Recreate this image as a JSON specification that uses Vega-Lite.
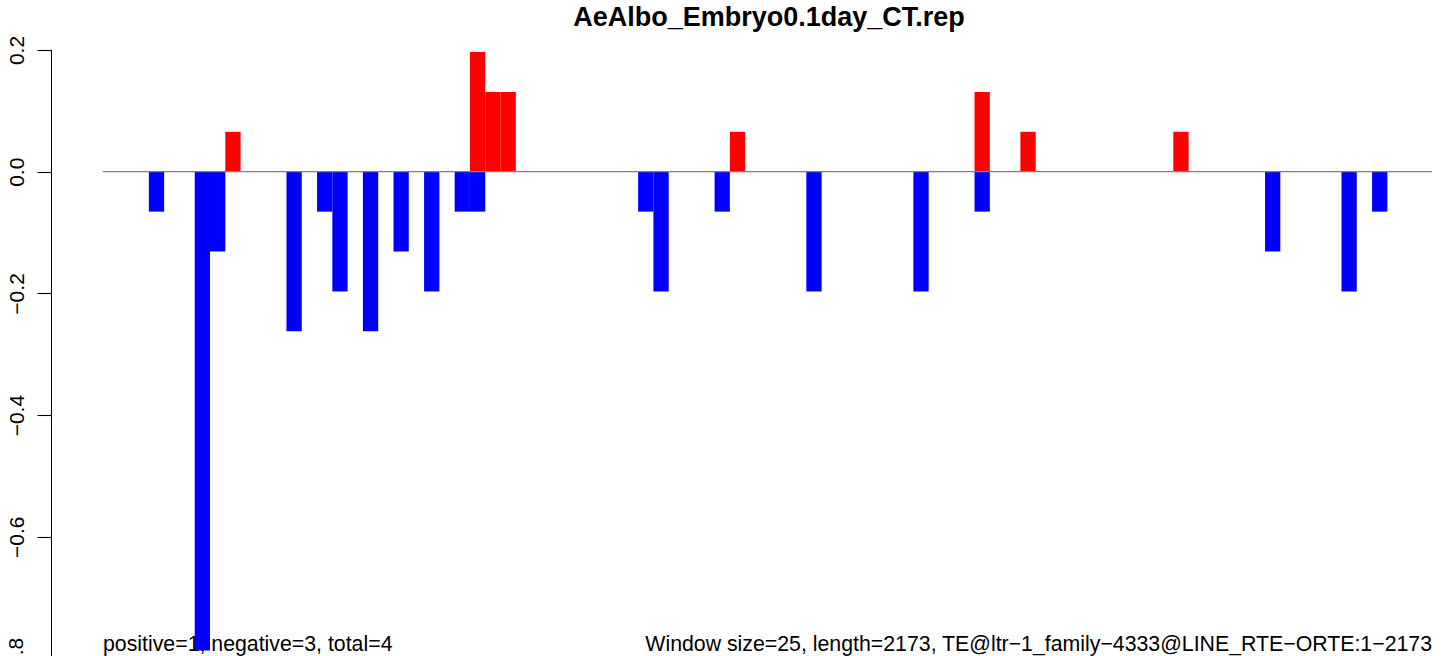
{
  "$schema": "https://vega.github.io/schema/vega-lite/v6.json",
  "autosize": {"type": "none"},
  "padding": {"left": 51, "top": 0, "right": 0, "bottom": 0},
  "width": 1393,
  "height": 656,
  "background": "white",
  "config": {"view": {"stroke": null}},
  "layer": [
    {
      "data": {"values": [{"label": "positive=1, negative=3, total=4"}]},
      "mark": {"type": "text", "align": "left", "baseline": "alphabetic", "font": "Liberation Sans", "fontSize": 21.3, "color": "black"},
      "encoding": {
        "x": {"datum": 0, "type": "quantitative", "axis": null},
        "y": {"datum": -0.7877, "type": "quantitative"},
        "text": {"field": "label"}
      }
    },
    {
      "data": {"values": [{"label": "Window size=25, length=2173, TE@ltr\u22121_family\u22124333@LINE_RTE\u2212ORTE:1\u22122173"}]},
      "mark": {"type": "text", "align": "right", "baseline": "alphabetic", "font": "Liberation Sans", "fontSize": 21.3, "color": "black"},
      "encoding": {
        "x": {"datum": 2173, "type": "quantitative", "axis": null},
        "y": {"datum": -0.7877, "type": "quantitative"},
        "text": {"field": "label"}
      }
    },
    {
      "data": {"values": [
        {"window": 3, "start": 75, "end": 100, "value": -0.0656, "sign": "negative"},
        {"window": 6, "start": 150, "end": 175, "value": -0.7869, "sign": "negative"},
        {"window": 7, "start": 175, "end": 200, "value": -0.1311, "sign": "negative"},
        {"window": 12, "start": 300, "end": 325, "value": -0.2623, "sign": "negative"},
        {"window": 14, "start": 350, "end": 375, "value": -0.0656, "sign": "negative"},
        {"window": 15, "start": 375, "end": 400, "value": -0.1967, "sign": "negative"},
        {"window": 17, "start": 425, "end": 450, "value": -0.2623, "sign": "negative"},
        {"window": 19, "start": 475, "end": 500, "value": -0.1311, "sign": "negative"},
        {"window": 21, "start": 525, "end": 550, "value": -0.1967, "sign": "negative"},
        {"window": 23, "start": 575, "end": 600, "value": -0.0656, "sign": "negative"},
        {"window": 24, "start": 600, "end": 625, "value": -0.0656, "sign": "negative"},
        {"window": 35, "start": 875, "end": 900, "value": -0.0656, "sign": "negative"},
        {"window": 36, "start": 900, "end": 925, "value": -0.1967, "sign": "negative"},
        {"window": 40, "start": 1000, "end": 1025, "value": -0.0656, "sign": "negative"},
        {"window": 46, "start": 1150, "end": 1175, "value": -0.1967, "sign": "negative"},
        {"window": 53, "start": 1325, "end": 1350, "value": -0.1967, "sign": "negative"},
        {"window": 57, "start": 1425, "end": 1450, "value": -0.0656, "sign": "negative"},
        {"window": 76, "start": 1900, "end": 1925, "value": -0.1311, "sign": "negative"},
        {"window": 81, "start": 2025, "end": 2050, "value": -0.1967, "sign": "negative"},
        {"window": 83, "start": 2075, "end": 2100, "value": -0.0656, "sign": "negative"},
        {"window": 8, "start": 200, "end": 225, "value": 0.0656, "sign": "positive"},
        {"window": 24, "start": 600, "end": 625, "value": 0.1967, "sign": "positive"},
        {"window": 25, "start": 625, "end": 650, "value": 0.1311, "sign": "positive"},
        {"window": 26, "start": 650, "end": 675, "value": 0.1311, "sign": "positive"},
        {"window": 41, "start": 1025, "end": 1050, "value": 0.0656, "sign": "positive"},
        {"window": 57, "start": 1425, "end": 1450, "value": 0.1311, "sign": "positive"},
        {"window": 60, "start": 1500, "end": 1525, "value": 0.0656, "sign": "positive"},
        {"window": 70, "start": 1750, "end": 1775, "value": 0.0656, "sign": "positive"}
      ]},
      "mark": {"type": "rect"},
      "encoding": {
        "x": {"field": "start", "type": "quantitative", "scale": {"domain": [-85, 2192.6], "nice": false, "zero": false}, "axis": null},
        "x2": {"field": "end"},
        "y": {"field": "value", "type": "quantitative", "scale": {"domain": [-0.7959, 0.2822], "nice": false, "zero": false},
          "axis": {"values": [-0.6, -0.4, -0.2, 0, 0.2], "format": ".1f", "title": null, "grid": false, "domain": false, "ticks": true,
            "labelAngle": 270, "labelAlign": "center", "labelBaseline": "alphabetic", "labelFont": "Liberation Sans",
            "labelFontSize": 21, "labelColor": "black", "labelPadding": 14, "tickColor": "black", "tickSize": 14, "tickWidth": 1.1, "tickOpacity": 1}},
        "y2": {"datum": 0},
        "color": {"field": "sign", "type": "nominal", "scale": {"domain": ["positive", "negative"], "range": ["#ff0000", "#0000ff"]}, "legend": null}
      }
    },
    {
      "data": {"values": [{"a": 1}]},
      "mark": {"type": "rule", "color": "#7f7f7f", "strokeWidth": 1.3},
      "encoding": {
        "x": {"datum": 0, "type": "quantitative", "axis": null},
        "x2": {"datum": 2173},
        "y": {"datum": 0, "type": "quantitative"}
      }
    },
    {
      "data": {"values": [{"a": 1}]},
      "mark": {"type": "rule", "color": "black", "strokeWidth": 1},
      "encoding": {
        "x": {"datum": -84.2, "type": "quantitative", "axis": null},
        "y": {"datum": 0.2, "type": "quantitative"},
        "y2": {"datum": -0.8}
      }
    },
    {
      "data": {"values": [{"label": "\u22120.8"}]},
      "mark": {"type": "text", "align": "center", "baseline": "alphabetic", "angle": 270, "font": "Liberation Sans", "fontSize": 21, "color": "black"},
      "encoding": {
        "x": {"datum": -130.8, "type": "quantitative", "axis": null},
        "y": {"datum": -0.8, "type": "quantitative"},
        "text": {"field": "label"}
      }
    },
    {
      "data": {"values": [{"label": "AeAlbo_Embryo0.1day_CT.rep"}]},
      "mark": {"type": "text", "align": "center", "baseline": "alphabetic", "font": "Liberation Sans", "fontSize": 27, "fontWeight": "bold", "color": "black"},
      "encoding": {
        "x": {"datum": 1089, "type": "quantitative", "axis": null},
        "y": {"datum": 0.2394, "type": "quantitative"},
        "text": {"field": "label"}
      }
    }
  ]
}
